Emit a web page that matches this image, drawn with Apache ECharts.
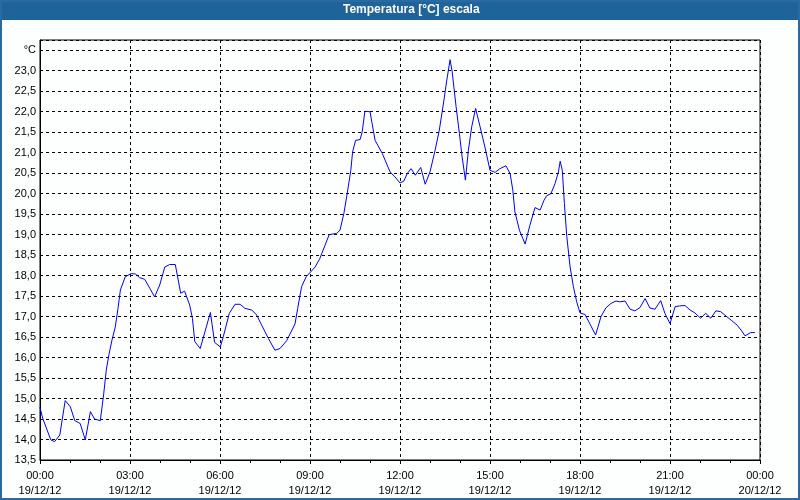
<!DOCTYPE html>
<html>
<head>
<meta charset="utf-8">
<script src="https://cdn.jsdelivr.net/npm/echarts@6/dist/echarts.min.js"></script>
<style>
html,body{margin:0;padding:0;background:#fdfefe;}
#chart{width:800px;height:500px;}
</style>
</head>
<body>
<div id="chart"></div>
<script>
// hours since 19/12/12 00:00
var hours = [0.00,0.09,0.36,0.49,0.66,0.84,1.01,1.16,1.34,1.51,1.68,1.82,2.01,2.12,2.21,2.30,2.40,2.51,2.60,2.68,2.84,3.04,3.18,3.32,3.49,3.66,3.82,3.99,4.16,4.32,4.51,4.69,4.82,4.99,5.08,5.16,5.34,5.68,5.82,6.01,
6.11,6.31,6.50,6.67,6.83,7.06,7.22,7.39,7.61,7.83,8.00,8.22,8.50,8.59,8.72,8.87,9.17,9.33,9.50,9.64,9.89,10.00,10.13,10.24,10.36,10.42,10.52,10.67,10.74,10.83,11.00,11.17,11.41,11.67,11.83,12.00,
12.13,12.24,12.37,12.51,12.69,12.84,13.00,13.17,13.31,13.44,13.56,13.67,13.74,13.87,13.98,14.07,14.18,14.28,14.39,14.52,14.67,14.83,15.00,15.17,15.33,15.53,15.67,15.76,15.83,15.98,16.17,16.33,16.50,16.67,16.80,16.89,17.03,17.17,17.28,17.34,17.41,17.48,17.56,17.67,17.78,17.89,18.00,
18.17,18.52,18.70,18.86,19.03,19.20,19.33,19.50,19.67,19.83,20.00,20.17,20.33,20.50,20.69,20.83,21.00,21.17,21.31,21.50,21.67,21.83,22.02,22.19,22.36,22.53,22.69,22.89,23.06,23.24,23.39,23.50,23.69,23.83];
var temps = [14.78,14.52,13.99,13.95,14.11,14.95,14.80,14.46,14.39,13.99,14.68,14.50,14.46,15.09,15.70,16.08,16.43,16.75,17.20,17.65,17.97,18.05,18.04,17.95,17.91,17.69,17.48,17.77,18.21,18.27,18.27,17.57,17.62,17.28,16.96,16.39,16.22,17.10,16.37,16.26,
16.51,17.08,17.30,17.30,17.20,17.16,17.04,16.79,16.47,16.18,16.22,16.41,16.82,17.20,17.73,17.97,18.21,18.42,18.74,19.00,19.03,19.11,19.52,20.00,20.57,21.02,21.30,21.32,21.51,22.01,22.00,21.30,20.98,20.53,20.41,20.26,
20.31,20.49,20.61,20.45,20.64,20.23,20.53,21.06,21.55,22.16,22.77,23.27,22.97,22.12,21.47,20.90,20.33,21.06,21.63,22.08,21.63,21.14,20.57,20.52,20.61,20.68,20.49,20.09,19.56,19.11,18.77,19.23,19.66,19.60,19.84,19.95,20.00,20.25,20.53,20.79,20.57,19.76,18.95,18.21,17.73,17.36,17.09,
17.05,16.55,17.00,17.21,17.32,17.38,17.36,17.38,17.18,17.14,17.22,17.44,17.21,17.18,17.39,17.08,16.83,17.24,17.26,17.27,17.16,17.09,16.96,17.08,16.96,17.14,17.12,17.00,16.90,16.79,16.65,16.53,16.61,16.61];
var tickHours = [0,3,6,9,12,15,18,21,24];
var tickLabels = ['00:00\n19/12/12','03:00\n19/12/12','06:00\n19/12/12','09:00\n19/12/12','12:00\n19/12/12','15:00\n19/12/12','18:00\n19/12/12','21:00\n19/12/12','00:00\n20/12/12'];
var titleText = 'Temperatura [°C] escala';
var unitLabel = '°C';

var data = hours.map(function(h,i){return [h, temps[i]];});
var chart = echarts.init(document.getElementById('chart'));
var dash = {color:'#000', width:1, type:[3,3]};
chart.setOption({
  backgroundColor:'#fdfefe',
  animation:false,
  title:{text:titleText, left:343, top:3, padding:0,
    textStyle:{color:'#ffffff', fontFamily:'Liberation Sans', fontWeight:'bold', fontSize:12, lineHeight:14}},
  graphic:[
    {type:'rect', z:-1, shape:{x:0,y:0,width:800,height:20}, style:{fill:'#1e6399'}},
    {type:'rect', z:-1, shape:{x:1,y:1,width:798,height:498}, style:{fill:null, stroke:'#2a6aa0', lineWidth:2}}
  ],
  grid:{left:40, right:40, top:40, bottom:40, show:true, borderColor:'#000', borderWidth:1, containLabel:false},
  xAxis:{type:'value', min:0, max:24, interval:3,
    axisLine:{show:true, lineStyle:{color:'#000', width:1}},
    axisTick:{show:true, length:4, lineStyle:{color:'#000'}},
    minorTick:{show:true, splitNumber:3, length:3, lineStyle:{color:'#000'}},
    splitLine:{show:true, lineStyle:dash},
    axisLabel:{color:'#000', fontFamily:'Liberation Sans', fontSize:11, lineHeight:15, margin:8,
      formatter:function(v){var i=tickHours.indexOf(Math.round(v)); return i>=0?tickLabels[i]:'';}}
  },
  yAxis:{type:'value', min:13.5, max:23.75, interval:0.5,
    axisLine:{show:true, lineStyle:{color:'#000', width:1}},
    axisTick:{show:false},
    splitLine:{show:true, lineStyle:dash},
    axisLabel:{color:'#000', fontFamily:'Liberation Sans', fontSize:11, margin:4, showMaxLabel:false,
      formatter:function(v){ if(Math.abs(v-23.5)<1e-6) return unitLabel; return v.toFixed(1).replace('.',','); }}
  },
  series:[{type:'line', data:data, showSymbol:false, symbol:'none', smooth:false,
    lineStyle:{color:'#0000ff', width:1}, itemStyle:{color:'#0000ff'}}]
});
</script>
</body>
</html>
